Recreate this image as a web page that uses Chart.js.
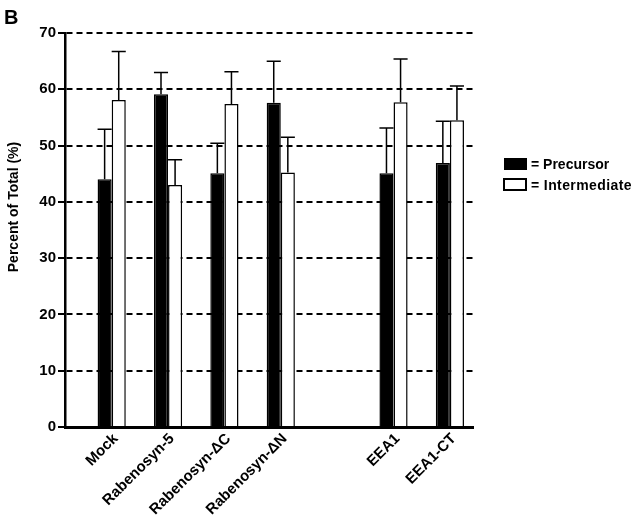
<!DOCTYPE html>
<html>
<head>
<meta charset="utf-8">
<script src="https://cdn.jsdelivr.net/npm/chart.js@4"></script>
<style>
  body { margin: 0; background: #fff; }
  #wrap { position: relative; width: 640px; height: 522px; font-family: "Liberation Sans", Arial, sans-serif; font-weight: bold; color: #000; }
  canvas { position: absolute; left: 0; top: 0; }
  .txt { position: absolute; white-space: nowrap; }
  .box { position: absolute; box-sizing: border-box; border: 2px solid #000; }
</style>
</head>
<body>
<div id="wrap">
  <canvas id="myChart" width="640" height="522"></canvas>
  <div class="txt" style="left:4px; top:7px; font-size:20px; line-height:20px;">B</div>
  <div class="txt" style="left:-87px; top:199px; width:200px; text-align:center; font-size:14px; line-height:16px; transform:rotate(-90deg);">Percent of Total (%)</div>
  <div class="box" style="left:504px; top:158px; width:23px; height:12px; background:#000;"></div>
  <div class="txt" style="left:531px; top:156px; font-size:14px; line-height:16px;">= Precursor</div>
  <div class="box" style="left:503px; top:178px; width:24px; height:13px; background:#fff;"></div>
  <div class="txt" style="left:531px; top:177px; font-size:14px; line-height:16px; letter-spacing:0.4px;">= Intermediate</div>
</div>
<script>
// categories and their slots on the x axis (slot 5 left empty as in the figure)
var categories = ["Mock", "Rabenosyn-5", "Rabenosyn-\u0394C", "Rabenosyn-\u0394N", "EEA1", "EEA1-CT"];
var slots = [1, 2, 3, 4, 6, 7];

var precursor = [44.0, 59.1, 45.1, 57.6, 45.1, 46.9];
var precursorErr = [8.9, 3.9, 5.3, 7.4, 8.0, 7.4];
var intermediate = [58.1, 43.0, 57.4, 45.2, 57.7, 54.5];
var intermediateErr = [8.6, 4.5, 5.7, 6.3, 7.7, 6.1];

var yTicks = [0, 10, 20, 30, 40, 50, 60, 70];

function points(vals) {
  return vals.map(function (v, i) { return { x: slots[i], y: v }; });
}

// upward-only error bars with a cap as wide as the bar
var errorBars = {
  id: "errorBars",
  afterDatasetsDraw: function (chart) {
    var ctx = chart.ctx;
    var y = chart.scales.y;
    chart.data.datasets.forEach(function (ds, d) {
      var meta = chart.getDatasetMeta(d);
      meta.data.forEach(function (bar, i) {
        var top = y.getPixelForValue(ds.data[i].y + ds.errors[i]);
        var half = bar.width / 2;
        ctx.save();
        ctx.strokeStyle = "#000";
        ctx.lineWidth = 1.5;
        ctx.beginPath();
        ctx.moveTo(bar.x, bar.y);
        ctx.lineTo(bar.x, top);
        ctx.moveTo(bar.x - half, top);
        ctx.lineTo(bar.x + half, top);
        ctx.stroke();
        ctx.restore();
      });
    });
  }
};

var ctx = document.getElementById("myChart");

new Chart(ctx, {
  type: "bar",
  data: {
    datasets: [
      {
        label: "Precursor",
        data: points(precursor),
        errors: precursorErr,
        backgroundColor: "#000",
        borderColor: "#000",
        borderWidth: 1.5,
      },
      {
        label: "Intermediate",
        data: points(intermediate),
        errors: intermediateErr,
        backgroundColor: "#fff",
        borderColor: "#000",
        borderWidth: 1.5,
      },
    ],
  },
  options: {
    responsive: false,
    animation: false,
    events: [],
    categoryPercentage: 0.5,
    barPercentage: 1.0,
    layout: { padding: { top: 33, right: 167, left: 0, bottom: 0 } },
    plugins: {
      legend: { display: false },
      tooltip: { enabled: false },
    },
    scales: {
      x: {
        type: "linear",
        offset: false,
        min: 0.172,
        max: 7.41,
        afterBuildTicks: function (scale) {
          scale.ticks = slots.map(function (s) { return { value: s }; });
        },
        afterFit: function (scale) { scale.height = 95; },
        grid: { display: false, drawTicks: false },
        border: { display: true, color: "#000", width: 3 },
        ticks: {
          autoSkip: false,
          minRotation: 45,
          maxRotation: 45,
          padding: 3,
          labelOffset: 4,
          color: "#000",
          font: { family: "'Liberation Sans', Arial", size: 15, weight: "bold" },
          callback: function (value) {
            var i = slots.indexOf(value);
            return i >= 0 ? categories[i] : "";
          },
        },
      },
      y: {
        min: 0,
        max: 70,
        afterBuildTicks: function (scale) {
          scale.ticks = yTicks.map(function (v) { return { value: v }; });
        },
        afterFit: function (scale) { scale.width = 65; },
        grid: { color: "#000", lineWidth: 2, tickLength: 7, tickColor: "#000", tickWidth: 2 },
        border: { color: "#000", width: 2.5, dash: [6, 4] },
        ticks: {
          padding: 2,
          color: "#000",
          font: { family: "'Liberation Sans', Arial", size: 15, weight: "bold" },
        },
      },
    },
  },
  plugins: [errorBars],
});
</script>
</body>
</html>
